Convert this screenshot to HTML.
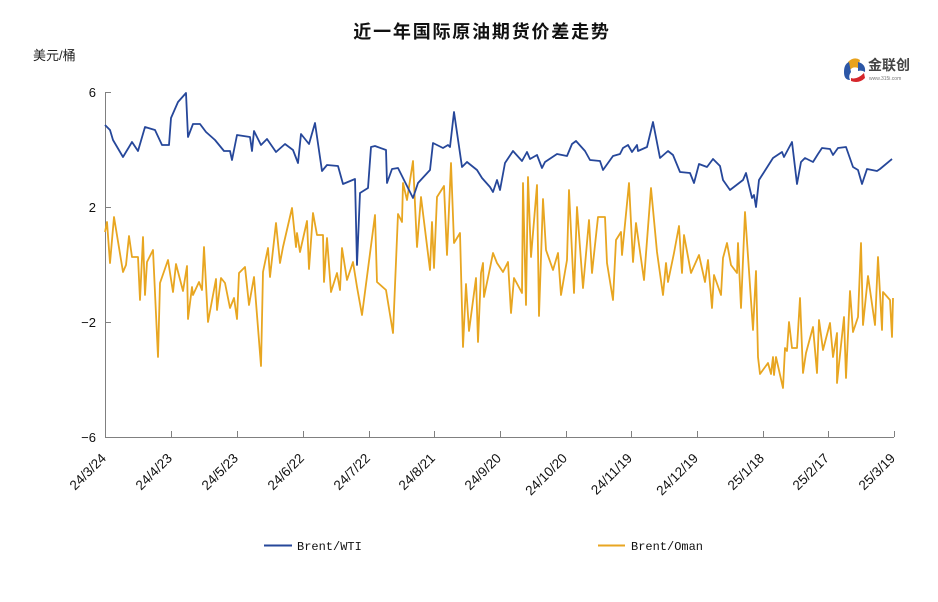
<!DOCTYPE html>
<html><head><meta charset="utf-8"><style>
body{margin:0;background:#fff;}
</style></head><body>
<svg width="938" height="602" viewBox="0 0 938 602" xmlns="http://www.w3.org/2000/svg" style="display:block">
<rect width="938" height="602" fill="#fff"/>
<text x="482" y="38" text-anchor="middle" font-family="'Liberation Sans','Noto Sans CJK SC',sans-serif" font-size="18" font-weight="bold" letter-spacing="1.8" fill="#111">近一年国际原油期货价差走势</text>
<text x="33" y="60" font-family="'Liberation Sans','Noto Sans CJK SC',sans-serif" font-size="13" fill="#222">美元/桶</text>
<g>
<path d="M848,62 q6,-6 12,-2 l-2,8 q-5,-2 -8,2z" fill="#e8a21c"/>
<path d="M844,72 q0,-8 5,-10 l2,10 q-3,4 -1,8 q-6,0 -6,-8z" fill="#2c57a6"/>
<path d="M858,62 q8,2 7,10 q-3,-2 -7,-1z" fill="#2c57a6"/>
<path d="M851,78 q6,2 13,-5 l1,5 q-6,6 -14,3z" fill="#d6262b"/>
<text x="868" y="70" font-family="'Noto Sans CJK SC',sans-serif" font-size="14" font-weight="bold" fill="#444">金联创</text>
<text x="869" y="80" font-family="'Liberation Sans',sans-serif" font-size="5" fill="#777">www.315i.com</text>
</g>
<g stroke="#808080" stroke-width="1" fill="none">
<line x1="105.5" y1="92" x2="105.5" y2="437.5"/>
<line x1="105" y1="437.5" x2="894" y2="437.5"/>
<line x1="105" y1="92.5" x2="111" y2="92.5"/>
<line x1="105" y1="207.5" x2="111" y2="207.5"/>
<line x1="105" y1="322.5" x2="111" y2="322.5"/>
<line x1="171.5" y1="431" x2="171.5" y2="437"/>
<line x1="237.5" y1="431" x2="237.5" y2="437"/>
<line x1="303.5" y1="431" x2="303.5" y2="437"/>
<line x1="369.5" y1="431" x2="369.5" y2="437"/>
<line x1="434.5" y1="431" x2="434.5" y2="437"/>
<line x1="500.5" y1="431" x2="500.5" y2="437"/>
<line x1="566.5" y1="431" x2="566.5" y2="437"/>
<line x1="631.5" y1="431" x2="631.5" y2="437"/>
<line x1="697.5" y1="431" x2="697.5" y2="437"/>
<line x1="763.5" y1="431" x2="763.5" y2="437"/>
<line x1="828.5" y1="431" x2="828.5" y2="437"/>
<line x1="894.5" y1="431" x2="894.5" y2="437"/>
</g>
<g font-family="'Liberation Sans',sans-serif" font-size="13" fill="#111" text-anchor="end">
<text x="96" y="97">6</text>
<text x="96" y="212">2</text>
<text x="96" y="327">−2</text>
<text x="96" y="442">−6</text>
</g>
<g font-family="'Liberation Sans',sans-serif" font-size="13.5" fill="#111" text-anchor="end">
<text transform="translate(107,459) rotate(-45)">24/3/24</text>
<text transform="translate(173,459) rotate(-45)">24/4/23</text>
<text transform="translate(239,459) rotate(-45)">24/5/23</text>
<text transform="translate(305,459) rotate(-45)">24/6/22</text>
<text transform="translate(371,459) rotate(-45)">24/7/22</text>
<text transform="translate(436,459) rotate(-45)">24/8/21</text>
<text transform="translate(502,459) rotate(-45)">24/9/20</text>
<text transform="translate(568,459) rotate(-45)">24/10/20</text>
<text transform="translate(633,459) rotate(-45)">24/11/19</text>
<text transform="translate(699,459) rotate(-45)">24/12/19</text>
<text transform="translate(765,459) rotate(-45)">25/1/18</text>
<text transform="translate(830,459) rotate(-45)">25/2/17</text>
<text transform="translate(896,459) rotate(-45)">25/3/19</text>
</g>
<polyline fill="none" stroke="#e8a621" stroke-width="1.8" stroke-linejoin="round" points="105,232 107,222 110,263 114,217 123,272 126,265 129,236 132,257 138,257 140,300 143,237 145,295 147,262 153,250 158,357 160,283 168,260 173,292 176,264 183,291 187,266 188,319 192,287 193,295 199,282 202,290 204,247 208,322 216,279 217,310 221,278 225,283 230,308 234,298 237,319 239,273 245,267 249,305 254,277 261,366 263,272 268,248 270,277 276,223 280,263 283,247 292,208 296,247 297,233 300,252 307,221 309,269 313,213 317,235 323,235 324,282 327,238 331,292 337,273 340,290 342,248 347,280 353,262 357,287 362,315 375,215 377,282 386,290 393,333 398,214 402,222 403,183 407,200 413,161 417,247 421,197 430,270 432,222 434,268 437,197 444,186 447,255 451,163 454,243 460,233 463,347 466,284 469,331 476,278 478,342 481,273 483,263 484,297 490,268 493,253 497,263 503,272 508,262 511,313 514,278 522,293 523,183 526,305 528,177 531,257 537,185 539,316 543,199 546,250 553,270 558,253 561,295 567,260 569,190 573,273 574,293 577,207 583,288 589,220 592,273 598,217 605,217 607,263 613,300 616,240 621,232 622,255 629,183 633,262 636,223 644,280 651,188 657,252 663,295 666,263 668,282 674,253 679,226 682,273 684,235 691,273 699,255 705,282 708,260 712,308 714,275 721,295 723,258 727,243 731,265 737,273 738,243 741,308 745,212 753,330 756,271 758,357 760,374 768,363 771,374 773,357 774,375 776,357 783,388 785,348 787,351 789,322 792,348 797,348 800,298 803,373 806,353 813,327 817,373 819,320 823,350 830,323 833,357 837,333 837,383 844,317 846,378 850,291 853,332 858,317 861,243 863,325 868,276 875,325 878,257 882,330 883,292 890,300 892,337 893,298"/>
<polyline fill="none" stroke="#26479a" stroke-width="1.8" stroke-linejoin="round" points="105,125 110,130 113,140 123,157 132,142 138,151 145,127 155,130 162,145 169,145 171,118 178,102 186,93 188,137 193,124 200,124 206,132 215,140 224,151 230,151 232,160 237,135 250,137 252,151 254,131 261,145 267,139 276,152 285,144 293,150 298,163 301,134 309,144 315,123 322,171 327,165 338,166 343,184 355,179 357,265 360,193 368,188 371,147 375,146 386,150 387,183 392,169 398,168 413,198 418,183 430,170 433,143 443,148 448,145 450,147 454,112 462,167 467,162 477,170 482,178 490,187 493,192 497,180 500,190 505,163 513,151 522,161 527,152 530,159 537,155 542,168 545,162 557,154 567,156 572,144 576,141 585,151 590,160 600,161 603,170 613,156 620,154 623,148 628,145 632,152 637,145 638,151 647,147 653,122 660,158 668,151 673,155 680,172 690,173 694,183 699,164 707,167 713,159 720,166 723,180 730,190 743,180 746,173 752,198 754,195 756,207 759,180 773,158 782,152 784,157 792,142 797,184 801,162 805,158 813,162 818,154 822,148 830,149 833,155 838,148 846,147 853,167 858,170 862,184 867,169 877,171 880,169 892,159"/>
<line x1="264" y1="545.5" x2="292" y2="545.5" stroke="#26479a" stroke-width="2"/>
<text x="297" y="550" font-family="'Liberation Mono',monospace" font-size="12" fill="#111">Brent/WTI</text>
<line x1="598" y1="545.5" x2="625" y2="545.5" stroke="#e8a621" stroke-width="2"/>
<text x="631" y="550" font-family="'Liberation Mono',monospace" font-size="12" fill="#111">Brent/Oman</text>
</svg>
</body></html>
